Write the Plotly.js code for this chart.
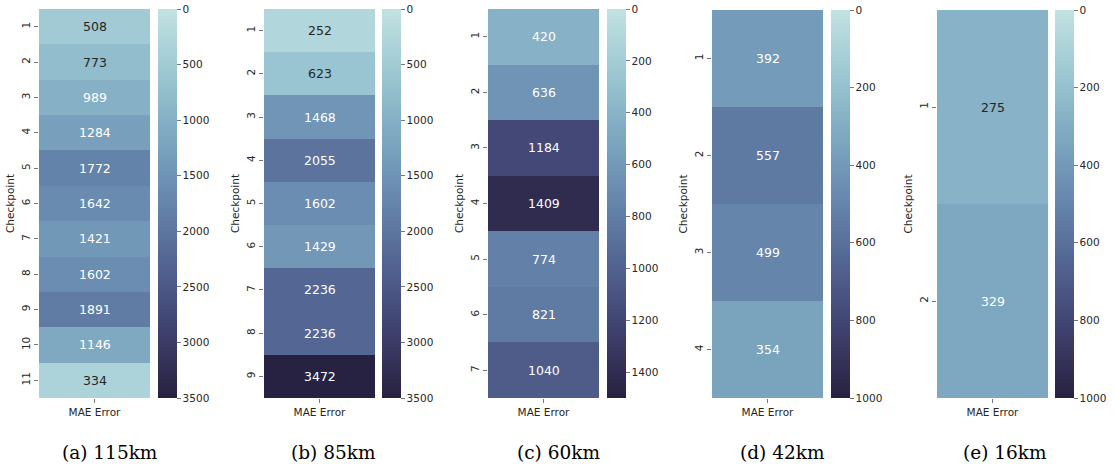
<!DOCTYPE html>
<html>
<head>
<meta charset="utf-8">
<script src="https://cdn.plot.ly/plotly-3.0.1.min.js"></script>
<style>
  html, body { margin: 0; padding: 0; background: #fff; }
  #chart { width: 1115px; height: 470px; }
</style>
</head>
<body>
<div id="chart"></div>
<script>
// MAE error per checkpoint for each route length
const captions = ['(a) 115km', '(b) 85km', '(c) 60km', '(d) 42km', '(e) 16km'];
const mae115 = [508, 773, 989, 1284, 1772, 1642, 1421, 1602, 1891, 1146, 334];
const mae85 = [252, 623, 1468, 2055, 1602, 1429, 2236, 2236, 3472];
const mae60 = [420, 636, 1184, 1409, 774, 821, 1040];
const mae42 = [392, 557, 499, 354];
const mae16 = [275, 329];
const colorMax = [3500, 3500, 1500, 1000, 1000];
const colorStep = [500, 500, 200, 200, 200];
const columnLabel = 'MAE Error';
const series = [mae115, mae85, mae60, mae42, mae16];

// pixel layout of each panel: heatmap left/right, colorbar left, top/bottom
const W = 1115, H = 470;
const panels = [
  { hx0: 39,  hx1: 150,  cb: 158,  top: 9,  bot: 398, cap: 110 },
  { hx0: 264, hx1: 375,  cb: 382,  top: 9,  bot: 398, cap: 333 },
  { hx0: 488, hx1: 599,  cb: 607,  top: 9,  bot: 398, cap: 558 },
  { hx0: 712, hx1: 823,  cb: 831,  top: 10, bot: 398, cap: 782 },
  { hx0: 937, hx1: 1048, cb: 1055, top: 10, bot: 398, cap: 1005 }
];

// seaborn-style cubehelix (start=.2, rot=-.3), light .85 -> dark .15
function helix(x) {
  const start = 0.2, rot = -0.3, hue = 0.8;
  const a = hue * x * (1 - x) / 2;
  const phi = 2 * Math.PI * (start / 3 + rot * x);
  const c = Math.cos(phi), s = Math.sin(phi);
  const clip = v => Math.min(1, Math.max(0, v));
  return [
    clip(x + a * (-0.14861 * c + 1.78277 * s)),
    clip(x + a * (-0.29227 * c - 0.90649 * s)),
    clip(x + a * (1.97294 * c))
  ];
}
// t: 0 (low value) .. 1 (high value)
function cmap(t) {
  return helix(0.85 - 0.7 * t);
}
function rgbStr(c) {
  return 'rgb(' + c.map(v => Math.round(v * 255)).join(',') + ')';
}
function luminance(c) {
  const lin = c.map(v => v <= 0.03928 ? v / 12.92 : Math.pow((v + 0.055) / 1.055, 2.4));
  return 0.2126 * lin[0] + 0.7152 * lin[1] + 0.0722 * lin[2];
}

// colour scale on negated values, so the colour bar reads 0 at the top
const colorscale = [];
const NS = 40;
for (let i = 0; i <= NS; i++) {
  const f = i / NS;
  colorscale.push([f, rgbStr(cmap(1 - f))]);
}

const textColor = '#262626';
const tickColor = '#777';
const sans = 'DejaVu Sans, sans-serif';

const traces = [];
const annotations = [];
const layout = {
  width: W, height: H,
  margin: { l: 0, r: 0, t: 0, b: 0 },
  paper_bgcolor: '#fff',
  plot_bgcolor: '#fff',
  showlegend: false,
  font: { family: sans, size: 10, color: textColor }
};

series.forEach((vals, i) => {
  const p = panels[i];
  const n = i === 0 ? '' : String(i + 1);
  const vmax = colorMax[i];
  const cats = vals.map((_, k) => String(k + 1));
  const tickvals = [], ticktext = [];
  for (let v = 0; v <= vmax; v += colorStep[i]) {
    tickvals.push(-v);
    ticktext.push(String(v));
  }
  traces.push({
    type: 'heatmap',
    x: [columnLabel],
    y: cats,
    z: vals.map(v => [-v]),
    zmin: -vmax, zmax: 0,
    colorscale: colorscale,
    xaxis: 'x' + n, yaxis: 'y' + n,
    hoverinfo: 'skip',
    colorbar: {
      x: p.cb / W, xanchor: 'left', xref: 'paper',
      y: 1 - p.top / H, yanchor: 'top', yref: 'paper',
      len: p.bot - p.top, lenmode: 'pixels',
      thickness: 19, thicknessmode: 'pixels',
      xpad: 0, ypad: 0,
      outlinewidth: 0,
      ticks: 'outside', ticklen: 4, tickwidth: 1, tickcolor: tickColor,
      tickvals: tickvals, ticktext: ticktext,
      tickfont: { family: sans, size: 10.5, color: textColor }
    }
  });
  layout['xaxis' + n] = {
    domain: [p.hx0 / W, p.hx1 / W],
    anchor: 'y' + n,
    type: 'category',
    range: [-0.5, 0.5],
    showgrid: false, zeroline: false, showline: false,
    ticks: 'outside', ticklen: 4, tickcolor: tickColor,
    tickfont: { family: sans, size: 10.5, color: textColor },
    fixedrange: true
  };
  layout['yaxis' + n] = {
    domain: [1 - p.bot / H, 1 - p.top / H],
    anchor: 'x' + n,
    type: 'category',
    range: [vals.length - 0.5, -0.5],
    showgrid: false, zeroline: false, showline: false,
    ticks: 'outside', ticklen: 4, tickcolor: tickColor,
    tickangle: -90,
    tickfont: { family: sans, size: 10.5, color: textColor },
    title: { text: 'Checkpoint', standoff: 3, font: { family: sans, size: 10.5, color: textColor } },
    fixedrange: true
  };
  // value labels inside each cell (category index positions)
  vals.forEach((v, k) => {
    const c = cmap(Math.min(1, v / vmax));
    annotations.push({
      xref: 'x' + n, yref: 'y' + n,
      x: 0, y: k,
      text: String(v), showarrow: false,
      font: { family: sans, size: 12.5, color: luminance(c) > 0.408 ? textColor : '#ffffff' }
    });
  });
  // sub-figure caption
  annotations.push({
    xref: 'paper', yref: 'paper',
    x: p.cap / W, y: 1 - 452 / H,
    xanchor: 'center', yanchor: 'middle',
    text: captions[i], showarrow: false,
    font: { family: 'DejaVu Serif, Liberation Serif, serif', size: 18.5, color: '#000' }
  });
});
layout.annotations = annotations;

Plotly.newPlot('chart', traces, layout, { staticPlot: true, displayModeBar: false });
</script>
</body>
</html>
